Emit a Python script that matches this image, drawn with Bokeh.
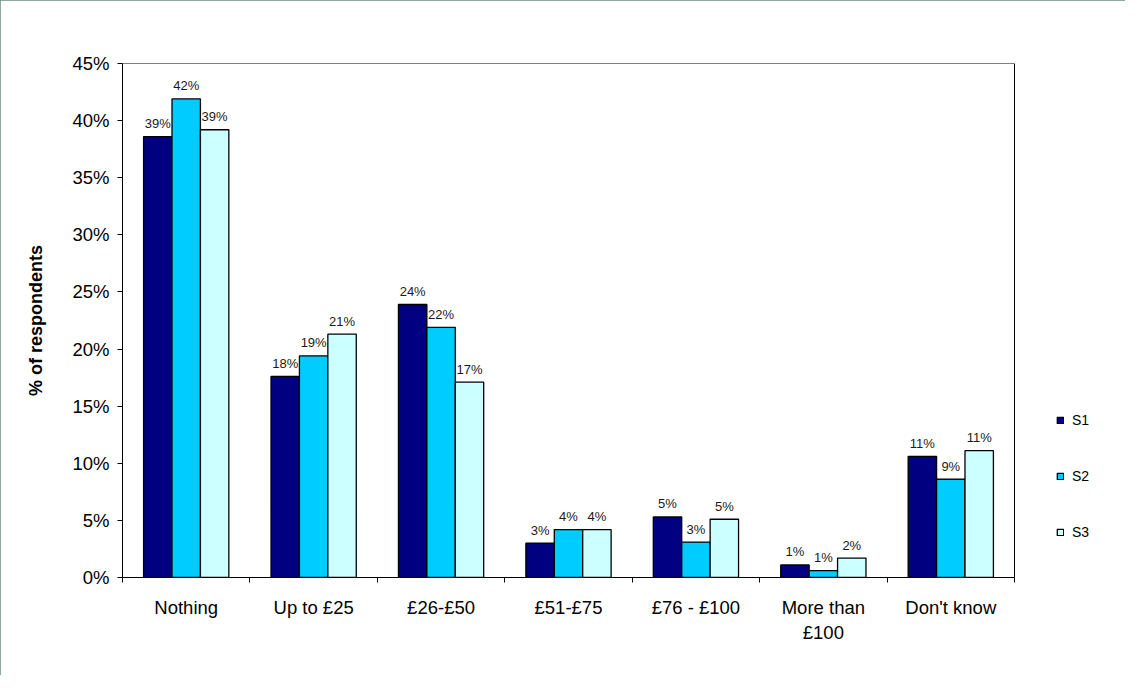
from bokeh.plotting import figure
from bokeh.models import Range1d, FixedTicker, ColumnDataSource, PrintfTickFormatter
from bokeh.embed import file_html
from bokeh.resources import INLINE
from bokeh.core.properties import value

# ---- data ----
categories = ["Nothing", "Up to £25", "£26-£50", "£51-£75", "£76 - £100", "More than\n£100", "Don't know"]
series_names = ["S1", "S2", "S3"]
s1 = [38.6, 17.6, 23.9, 3.0, 5.3, 1.1, 10.6]
s2 = [41.9, 19.4, 21.9, 4.2, 3.1, 0.6, 8.6]
s3 = [39.2, 21.3, 17.1, 4.2, 5.1, 1.7, 11.1]
y_ticks = [0, 5, 10, 15, 20, 25, 30, 35, 40, 45]

colors = ["#000080", "#00CCFF", "#CCFFFF"]
FONT = "Liberation Sans"

W, H = 1125, 675
LEFT, RIGHT, TOP, BOTTOM = 122, 10, 63, 98
PLOT_W = 892                      # width of the bar area in pixels
n = len(categories)
y_max = y_ticks[-1]
frame_w = W - LEFT - RIGHT
x_end = n * frame_w / PLOT_W      # frame extends right to host the legend

p = figure(width=W, height=H, output_backend="svg", toolbar_location=None,
           x_range=Range1d(0, x_end), y_range=Range1d(0, y_max),
           min_border_left=LEFT, min_border_right=RIGHT, min_border_top=TOP, min_border_bottom=BOTTOM)
p.styles = {"outline": "3px solid #6e8b7b", "outline-offset": "-3px"}

p.background_fill_color = "white"
p.border_fill_color = "white"
p.outline_line_color = None
p.xgrid.visible = False
p.ygrid.visible = False

# top and right edges of the plot area box
p.segment(x0=[0, n], y0=[y_max, 0], x1=[n, n], y1=[y_max, y_max], line_color="black", line_width=1)

bw = 0.223
offsets = [-bw, 0.0, bw]
for k, (name, vals) in enumerate(zip(series_names, [s1, s2, s3])):
    xs = [i + 0.5 + offsets[k] for i in range(n)]
    src = ColumnDataSource(dict(x=xs, top=vals, lab=["{:.0f}%".format(v) for v in vals]))
    p.vbar(x="x", top="top", width=bw, bottom=0, source=src, fill_color=colors[k],
           line_color="black", line_width=1.3, legend_label=name)
    p.text(x="x", y="top", text="lab", source=src, text_align="center", text_baseline="alphabetic",
           y_offset=-13, text_font=value(FONT), text_font_size="13px", text_color="#1a1a1a")

# y axis
ya = p.yaxis[0]
ya.ticker = FixedTicker(ticks=y_ticks, minor_ticks=[])
ya.formatter = PrintfTickFormatter(format="%d%%")
ya.major_tick_out = 5
ya.major_tick_in = 0
ya.minor_tick_out = 0
ya.minor_tick_in = 0
ya.major_label_standoff = 8
ya.major_label_text_font = FONT
ya.major_label_text_font_size = "18.5px"
ya.major_label_text_color = "black"
ya.axis_line_color = "black"
ya.axis_label = "% of respondents"
ya.axis_label_text_font = FONT
ya.axis_label_text_font_size = "18px"
ya.axis_label_text_font_style = "bold"
ya.axis_label_text_color = "black"
ya.axis_label_standoff = 23

# x axis: labels at centres, ticks at boundaries
xa = p.xaxis[0]
xa.bounds = (0, n)
xa.ticker = FixedTicker(ticks=[i + 0.5 for i in range(n)], minor_ticks=list(range(n + 1)))
xa.major_label_overrides = {i + 0.5: c for i, c in enumerate(categories)}
xa.major_tick_out = 0
xa.major_tick_in = 0
xa.minor_tick_out = 5
xa.minor_tick_in = 0
xa.minor_tick_line_color = "black"
xa.major_label_standoff = 14
xa.major_label_text_font = FONT
xa.major_label_text_font_size = "18.5px"
xa.major_label_text_color = "black"
xa.axis_line_color = "black"

# legend
lg = p.legend[0]
lg.location = (934, 37)
lg.padding = 0
lg.margin = 0
lg.border_line_alpha = 0
lg.background_fill_alpha = 0
lg.glyph_width = 8
lg.glyph_height = 8
lg.label_height = 16
lg.spacing = 40
lg.label_standoff = 8
lg.label_text_font = FONT
lg.label_text_font_size = "14px"
lg.label_text_color = "black"

open("out.html", "w").write(file_html(p, INLINE))
